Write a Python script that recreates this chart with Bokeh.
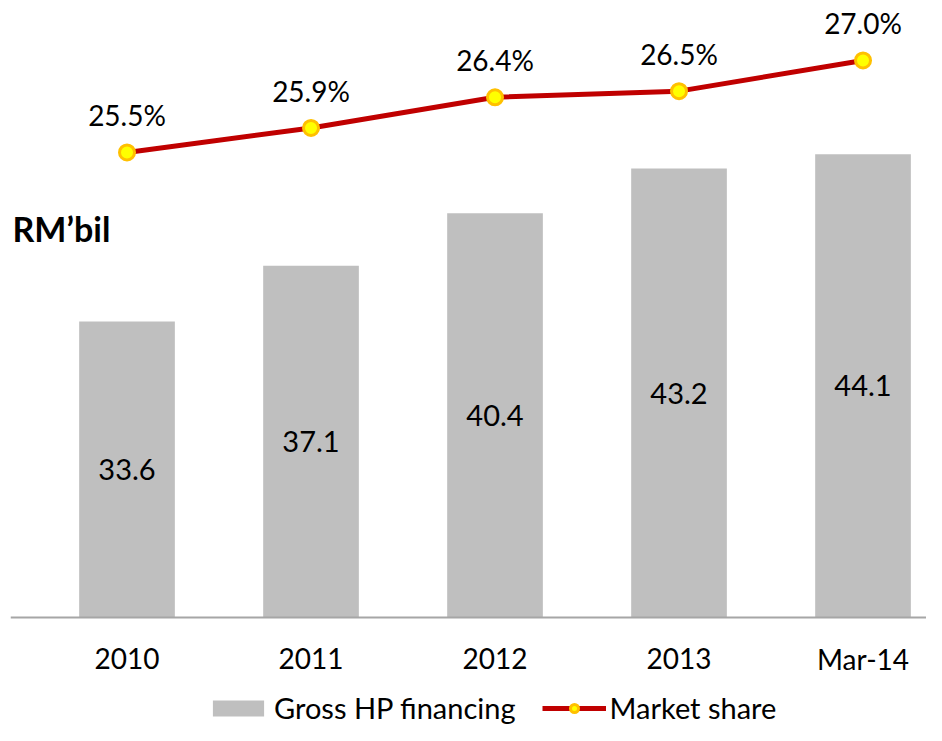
from bokeh.plotting import figure
from bokeh.models import (Range1d, Label, Legend, LegendItem, ColumnDataSource, Span)
from bokeh.core.properties import value
from bokeh.embed import file_html
from bokeh.resources import INLINE

categories = ["2010", "2011", "2012", "2013", "Mar-14"]
financing = [33.6, 37.1, 40.4, 43.2, 44.1]
share = [25.5, 25.9, 26.4, 26.5, 27.0]

FONT = "Lato"
base = 15.0
xs = list(range(len(categories)))

src = ColumnDataSource(dict(
    x=xs,
    cat=categories,
    base=[base] * len(xs),
    fin=financing,
    fin_mid=[(base + v) / 2 for v in financing],
    fin_lbl=[f"{v:.1f}" for v in financing],
    share=share,
    share_lbl=[f"{v:.1f}%" for v in share],
))

p = figure(width=926, height=725, output_backend="svg", toolbar_location=None,
           x_range=Range1d(-0.6332, 4.345), y_range=Range1d(8.216, 53.13),
           x_axis_location=None, y_axis_location=None,
           min_border_left=10, min_border_right=0,
           min_border_top=10, min_border_bottom=0)
p.extra_y_ranges = {"share": Range1d(16.157, 27.815)}
p.outline_line_color = None
p.xgrid.visible = False
p.ygrid.visible = False
p.background_fill_color = "white"
p.border_fill_color = "white"

bars = p.vbar(x="x", top="fin", bottom=base, width=0.52, source=src,
              fill_color="#bfbfbf", line_color=None)
p.text(x="x", y="fin_mid", text="fin_lbl", source=src, text_align="center",
       text_baseline="middle", text_font=value(FONT), text_font_size="29px",
       text_color="black")

# category axis: baseline and labels
p.add_layout(Span(location=base, dimension="width", line_color="#a6a6a6",
                  line_width=2))
p.text(x="x", y="base", text="cat", source=src, y_offset=41,
       text_align="center", text_baseline="middle", text_font=value(FONT),
       text_font_size="28px", text_color="black")

line = p.line(x="x", y="share", source=src, y_range_name="share",
              line_color="#c00000", line_width=5)
pts = p.scatter(x="x", y="share", source=src, y_range_name="share", size=15,
                fill_color="#ffff00", line_color="#ffc000", line_width=3)
p.text(x="x", y="share", text="share_lbl", source=src, y_range_name="share",
       y_offset=-37, text_align="center", text_baseline="middle",
       text_font=value(FONT), text_font_size="28px", text_color="black")

p.add_layout(Label(x=2, y=497, x_units="screen", y_units="screen",
                   text="RM’bil", text_font=FONT, text_font_size="34px",
                   text_font_style="bold", text_color="black",
                   text_baseline="middle", text_align="left"))

legend = Legend(items=[LegendItem(label="Gross HP financing", renderers=[bars]),
                       LegendItem(label="Market share", renderers=[line, pts])],
                orientation="horizontal", location=(196, 0),
                label_text_font=FONT, label_text_font_size="29px",
                label_text_color="black",
                glyph_width=64, glyph_height=20, spacing=26, label_standoff=4,
                border_line_color=None, background_fill_alpha=0,
                padding=0, margin=0)
p.add_layout(legend)

open("out.html", "w").write(file_html(p, INLINE))
